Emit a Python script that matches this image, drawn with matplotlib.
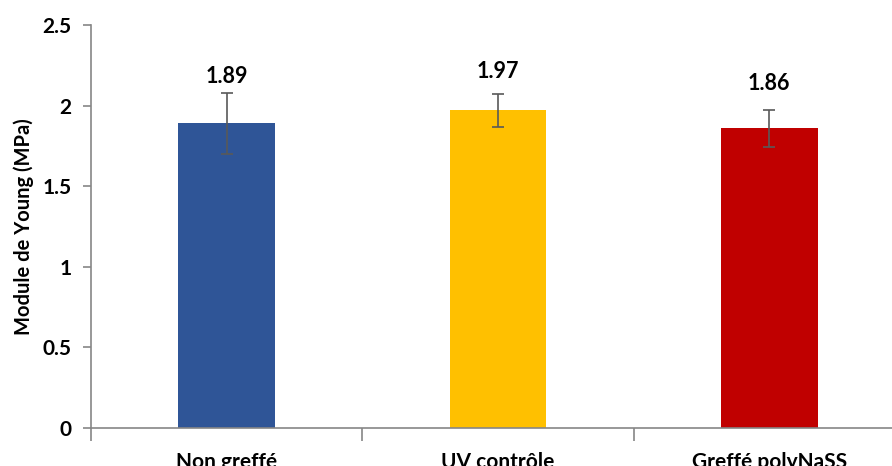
import matplotlib.pyplot as plt
import numpy as np

categories = ["Non greffé", "UV contrôle", "Greffé polyNaSS"]
values = [1.89, 1.97, 1.86]
errors = [0.19, 0.10, 0.115]
labels = ["1.89", "1.97", "1.86"]
label_y = [2.18, 2.21, 2.14]
colors = ["#2F5597", "#FFC000", "#C00000"]
yticks = [0, 0.5, 1, 1.5, 2, 2.5]
ytick_labels = ["0", "0.5", "1", "1.5", "2", "2.5"]

plt.rcParams["font.family"] = ["Lato", "DejaVu Sans"]
axis_gray = "#868686"

fig = plt.figure(figsize=(8.92, 4.66), dpi=100)
ax = fig.add_axes([91 / 892, 38 / 466, 814 / 892, 403 / 466])

x = np.arange(len(categories))
ax.bar(x, values, width=0.357, color=colors, zorder=2)
ax.errorbar(x, values, yerr=errors, fmt="none", ecolor="#595959",
            elinewidth=1.2, capsize=4.5, capthick=1.2, zorder=3)

for xi, txt, ly in zip(x, labels, label_y):
    ax.text(xi, ly, txt, ha="center", va="center", fontsize=15.5,
            fontweight="bold", color="black")

ax.set_xlim(-0.5, 2.5)
ax.set_ylim(0, 2.5)
ax.set_yticks(yticks)
ax.set_yticklabels(ytick_labels, fontsize=15, fontweight="bold")
ax.set_xticks(x)
ax.set_xticklabels(categories, fontsize=15, fontweight="bold")
ax.set_xticks([-0.5, 0.5, 1.5, 2.5], minor=True)
ax.tick_params(axis="x", which="major", length=0, pad=17)
ax.tick_params(axis="x", which="minor", length=9, color=axis_gray, width=1.2)
ax.tick_params(axis="y", length=6, color=axis_gray, width=1.2, pad=8)

for s in ["top", "right"]:
    ax.spines[s].set_visible(False)
for s in ["left", "bottom"]:
    ax.spines[s].set_color(axis_gray)
    ax.spines[s].set_linewidth(1.2)

ax.set_ylabel("Module de Young (MPa)", fontsize=14.5, fontweight="bold", labelpad=6)

fig.savefig("out.png", dpi=100)
